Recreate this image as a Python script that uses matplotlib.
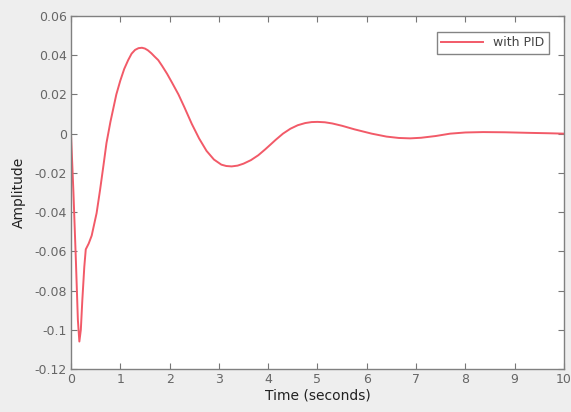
import matplotlib
matplotlib.use("Agg")
import matplotlib.pyplot as plt

# step response
t = [0.0, 0.05, 0.1, 0.14, 0.17, 0.2, 0.23, 0.27, 0.3, 0.36, 0.42, 0.52, 0.59,
     0.66, 0.72, 0.8, 0.92, 1.0, 1.08, 1.16, 1.23, 1.3, 1.37, 1.44, 1.5, 1.56,
     1.63, 1.7, 1.77, 1.85, 1.95, 2.05, 2.18, 2.3, 2.45, 2.6, 2.75, 2.9, 3.05,
     3.15, 3.26, 3.38, 3.5, 3.65, 3.8, 3.94, 4.05, 4.15, 4.3, 4.45, 4.6, 4.75,
     4.88, 5.0, 5.15, 5.3, 5.5, 5.75, 6.1, 6.4, 6.65, 6.88, 7.1, 7.4, 7.69,
     8.0, 8.36, 8.8, 9.3, 9.7, 10.0]
amplitude = [0.0, -0.03, -0.065, -0.095, -0.106, -0.1, -0.085, -0.068, -0.059,
             -0.056, -0.052, -0.0405, -0.0287, -0.016, -0.0048, 0.006, 0.02,
             0.027, 0.033, 0.0375, 0.0408, 0.0427, 0.0436, 0.0438, 0.0434,
             0.0425, 0.041, 0.0392, 0.0375, 0.0345, 0.0305, 0.026, 0.02, 0.0135,
             0.005, -0.0025, -0.0088, -0.0132, -0.0158, -0.0165, -0.0167,
             -0.0163, -0.0153, -0.0135, -0.011, -0.008, -0.0055, -0.0032, 0.0,
             0.0025, 0.0043, 0.0054, 0.0059, 0.006, 0.0058, 0.0052, 0.004,
             0.0022, 0.0, -0.0015, -0.0022, -0.0024, -0.0021, -0.0012, 0.0,
             0.0006, 0.0008, 0.0007, 0.0004, 0.0002, 0.0]

xticks = list(range(0, 11))
yticks = [-0.12, -0.1, -0.08, -0.06, -0.04, -0.02, 0, 0.02, 0.04, 0.06]
ytick_labels = ["-0.12", "-0.1", "-0.08", "-0.06", "-0.04", "-0.02", "0",
                "0.02", "0.04", "0.06"]

fig = plt.figure(figsize=(5.71, 4.12), dpi=100, facecolor="#eeeeee")
ax = fig.add_axes([0.1243, 0.1044, 0.8634, 0.8568])
ax.set_facecolor("white")

ax.plot(t, amplitude, color="#f25a68", linewidth=1.4, label="with PID")

ax.set_xlim(0, 10)
ax.set_ylim(-0.12, 0.06)
ax.set_xticks(xticks)
ax.set_yticks(yticks)
ax.set_yticklabels(ytick_labels)
ax.tick_params(direction="in", top=True, right=True, length=4, width=0.8,
               colors="#777777", labelcolor="#666666", labelsize=9, pad=3)
for s in ax.spines.values():
    s.set_color("#808080")
    s.set_linewidth(1.0)

ax.set_xlabel("Time (seconds)", fontsize=10, color="#222222", labelpad=2)
ax.set_ylabel("Amplitude", fontsize=10, color="#222222", labelpad=6)

leg = ax.legend(loc="upper right", fontsize=9, frameon=True, fancybox=False,
                handlelength=3.4, borderaxespad=1.0, borderpad=0.35,
                labelcolor="#444444", bbox_to_anchor=(0.995, 0.99))
leg.get_frame().set_edgecolor("#666666")
leg.get_frame().set_linewidth(1.0)

fig.savefig("out.png", dpi=100, facecolor=fig.get_facecolor())
